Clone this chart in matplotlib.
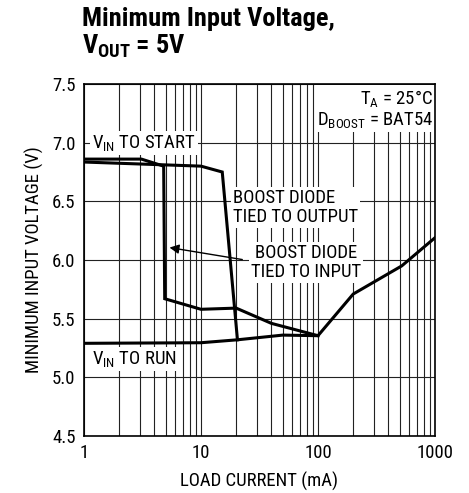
import numpy as np
import matplotlib
matplotlib.use("Agg")
import matplotlib.pyplot as plt
from matplotlib.ticker import FixedLocator, NullFormatter

plt.rcParams['font.family'] = ['Roboto Condensed', 'DejaVu Sans']

# boost diode tied to input
input_ma = [1, 3.1, 4.8, 4.9, 10, 20, 40, 100, 200, 520, 1000]
input_v = [6.86, 6.86, 6.80, 5.67, 5.58, 5.59, 5.46, 5.355, 5.71, 5.95, 6.19]

# boost diode tied to output
output_ma = [1, 10, 15.2, 20.5]
output_v = [6.835, 6.80, 6.75, 5.32]

# VIN to run
run_ma = [1, 10, 20.5, 50, 100]
run_v = [5.29, 5.295, 5.32, 5.36, 5.355]

x_ticks = [1, 10, 100, 1000]
x_ticklabels = ["1", "10", "100", "1000"]
y_ticks = [4.5, 5.0, 5.5, 6.0, 6.5, 7.0, 7.5]

fig = plt.figure(figsize=(4.69, 4.93), dpi=100)
ax = fig.add_axes([0.179, 0.1156, 0.7485, 0.714])

lw = 2.2
for xs, ys in [(input_ma, input_v), (output_ma, output_v), (run_ma, run_v)]:
    ax.plot(xs, ys, color='black', lw=lw, solid_joinstyle='miter', zorder=5)

ax.set_xscale('log')
ax.set_xlim(1, 1000)
ax.set_ylim(4.5, 7.5)
ax.xaxis.set_major_locator(FixedLocator(x_ticks))
ax.set_xticklabels(x_ticklabels)
ax.xaxis.set_minor_locator(FixedLocator([m * d for d in (1, 10, 100) for m in range(2, 10)]))
ax.xaxis.set_minor_formatter(NullFormatter())
ax.set_yticks(y_ticks)
ax.set_yticklabels([f"{v:.1f}" for v in y_ticks])
ax.tick_params(which='both', length=0, labelsize=13.5, pad=6)
ax.grid(which='both', axis='x', color='#222222', lw=0.8)
ax.grid(which='major', axis='y', color='#222222', lw=0.8)
for s in ax.spines.values():
    s.set_linewidth(1.2)
    s.set_zorder(6)

ax.set_xlabel("LOAD CURRENT (mA)", fontsize=13.5, labelpad=7)
ax.set_ylabel("MINIMUM INPUT VOLTAGE (V)", fontsize=13.5, labelpad=6)

box = dict(facecolor='white', edgecolor='none', pad=1.5)
fs = 13.5
ax.text(1.17, 7.0, r"$\mathregular{V_{IN}}$ TO START", fontsize=fs, va='center', ha='left', bbox=box, zorder=4)
ax.text(1.17, 5.16, r"$\mathregular{V_{IN}}$ TO RUN", fontsize=fs, va='center', ha='left', bbox=box, zorder=4)
ax.text(18.8, 6.445, "BOOST DIODE\nTIED TO OUTPUT", fontsize=fs, va='center', ha='left',
        multialignment='left', linespacing=1.05, bbox=box, zorder=4)
ax.text(79, 5.98, "BOOST DIODE\nTIED TO INPUT", fontsize=fs, va='center', ha='center',
        multialignment='center', linespacing=1.05, bbox=box, zorder=4)
ax.text(965, 7.47, "$\\mathregular{T_A}$ = 25°C\n$\\mathregular{D_{BOOST}}$ = BAT54", fontsize=13.5,
        va='top', ha='right', linespacing=1.1, bbox=box, zorder=4)
ax.annotate("", xy=(5.1, 6.11), xytext=(23.8, 6.0),
            arrowprops=dict(arrowstyle='-|>', color='black', lw=1.0, mutation_scale=14), zorder=5)

fig.text(0.175, 0.985, "Minimum Input Voltage,\n$\\mathregular{V_{OUT}}$ = 5V", fontsize=19,
         fontweight='bold', va='top', ha='left', linespacing=1.05)

fig.savefig("out.png", dpi=100)
